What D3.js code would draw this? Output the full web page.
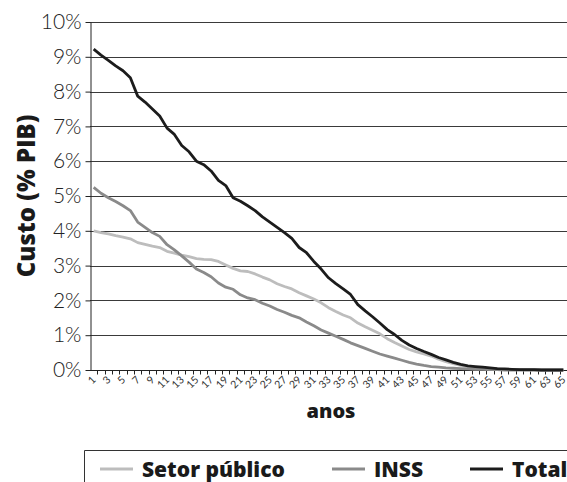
<!DOCTYPE html>
<html>
<head>
<meta charset="utf-8">
<script src="https://cdn.jsdelivr.net/npm/d3@7"></script>
<style>
  body { margin: 0; background: #fff; }
  svg { display: block; font-family: Lato, "Open Sans", sans-serif; }
</style>
</head>
<body>
<svg id="chart" width="567" height="482"></svg>
<script>
const width = 567;
const height = 482;

// anos 1..65
const anos = d3.range(1, 66);

const setorPublico = [
  4.0, 3.95, 3.91, 3.86, 3.82, 3.77, 3.66, 3.61, 3.56, 3.52,
  3.41, 3.36, 3.3, 3.26, 3.2, 3.18, 3.17, 3.12, 3.02, 2.92,
  2.85, 2.83, 2.76, 2.67, 2.59, 2.48, 2.4, 2.33, 2.22, 2.13,
  2.04, 1.93, 1.79, 1.68, 1.58, 1.5, 1.35, 1.24, 1.14, 1.04,
  0.9, 0.79, 0.69, 0.59, 0.52, 0.46, 0.4, 0.31, 0.24, 0.18,
  0.13, 0.1, 0.08, 0.06, 0.04, 0.03, 0.02, 0.01, 0.01, 0,
  0, 0, 0, 0, 0
];

const inss = [
  5.25, 5.08, 4.95, 4.84, 4.72, 4.58, 4.25, 4.1, 3.95, 3.84,
  3.6, 3.45, 3.28, 3.1, 2.9, 2.8, 2.68, 2.5, 2.38, 2.32,
  2.16, 2.07, 2.02, 1.92, 1.84, 1.74, 1.66, 1.57, 1.5, 1.38,
  1.27, 1.15, 1.06, 0.97, 0.88, 0.78, 0.7, 0.62, 0.54, 0.46,
  0.4, 0.34, 0.28, 0.22, 0.17, 0.13, 0.1, 0.08, 0.06, 0.05,
  0.04, 0.03, 0.02, 0.02, 0.01, 0.01, 0, 0, 0, 0,
  0, 0, 0, 0, 0
];

const total = [
  9.22, 9.05, 8.9, 8.74, 8.6, 8.4, 7.87, 7.7, 7.5, 7.3,
  6.95, 6.77, 6.45, 6.27, 6.0, 5.9, 5.72, 5.45, 5.3, 4.95,
  4.85, 4.72, 4.58, 4.4, 4.25, 4.1, 3.95, 3.78, 3.52, 3.37,
  3.12, 2.9, 2.65, 2.48, 2.33, 2.17, 1.88, 1.7, 1.53, 1.35,
  1.16, 1.02, 0.85, 0.72, 0.62, 0.53, 0.45, 0.36, 0.29, 0.22,
  0.16, 0.12, 0.1, 0.08, 0.06, 0.04, 0.03, 0.02, 0.01, 0.01,
  0.01, 0, 0, 0, 0
];

const yTicks = [0, 1, 2, 3, 4, 5, 6, 7, 8, 9, 10];

const seriesNames = ["Setor público", "INSS", "Total"];
const seriesColors = ["#bdbdbd", "#8a8a8a", "#1c1c1c"];
const seriesData = [setorPublico, inss, total];

const margin = { top: 22, right: 0, bottom: 112, left: 90 };
const svg = d3.select("#chart");
const boldFont = "'Open Sans', sans-serif";

const x = d3.scaleBand()
  .domain(anos)
  .range([margin.left, width - margin.right]);

const y = d3.scaleLinear()
  .domain([0, 10])
  .range([height - margin.bottom, margin.top]);

// gridlines
svg.append("g")
  .selectAll("line")
  .data(yTicks.filter(d => d > 0))
  .join("line")
  .attr("x1", margin.left)
  .attr("x2", width)
  .attr("y1", d => Math.round(y(d)) + 0.5)
  .attr("y2", d => Math.round(y(d)) + 0.5)
  .attr("stroke", "#3a3a3a")
  .attr("stroke-width", 1);

// y axis
const yAxis = svg.append("g")
  .attr("transform", `translate(${margin.left + 0.5},0)`)
  .call(d3.axisLeft(y).tickValues(yTicks).tickFormat(d => d + "%").tickSize(5).tickSizeOuter(0));
yAxis.select(".domain").attr("stroke", "#222");
yAxis.selectAll(".tick line").attr("stroke", "#222");
yAxis.selectAll(".tick text")
  .attr("x", -9)
  .attr("font-size", 21)
  .attr("font-weight", 300)
  .attr("fill", "#222")
  .style("font-family", "Lato, sans-serif");

// x axis: ticks on category boundaries
const xAxisG = svg.append("g")
  .attr("transform", `translate(0,${y(0) + 0.5})`);
xAxisG.append("line")
  .attr("x1", margin.left)
  .attr("x2", width)
  .attr("stroke", "#222");
xAxisG.selectAll(".bt")
  .data(anos)
  .join("line")
  .attr("class", "bt")
  .attr("x1", d => Math.round(x(d) + x.bandwidth()) + 0.5)
  .attr("x2", d => Math.round(x(d) + x.bandwidth()) + 0.5)
  .attr("y1", 0)
  .attr("y2", 4)
  .attr("stroke", "#222");
xAxisG.selectAll("text")
  .data(anos.filter(d => d % 2 === 1))
  .join("text")
  .attr("transform", d => `translate(${x(d) + x.bandwidth() / 2 + 3},${10}) rotate(-45)`)
  .attr("text-anchor", "end")
  .attr("font-size", 10.5)
  .attr("fill", "#333")
  .text(d => d);

// lines
const line = d3.line()
  .x((d, i) => x(anos[i]) + x.bandwidth() / 2)
  .y(d => y(d));

svg.append("g")
  .selectAll("path")
  .data(seriesData)
  .join("path")
  .attr("d", d => line(d))
  .attr("fill", "none")
  .attr("stroke", (d, i) => seriesColors[i])
  .attr("stroke-width", 2.8)
  .attr("stroke-linejoin", "round");

// axis titles
svg.append("text")
  .attr("transform", `translate(35,${(margin.top + y(0)) / 2}) rotate(-90)`)
  .attr("text-anchor", "middle")
  .attr("font-size", 24)
  .attr("font-weight", 800)
  .attr("fill", "#1a1a1a")
  .style("font-family", boldFont)
  .text("Custo (% PIB)");

svg.append("text")
  .attr("x", 331)
  .attr("y", 418)
  .attr("text-anchor", "middle")
  .attr("font-size", 20)
  .attr("font-weight", 800)
  .attr("fill", "#1a1a1a")
  .style("font-family", boldFont)
  .text("anos");

// legend box
svg.append("path")
  .attr("d", `M84.5,${height}V450.5H${width}`)
  .attr("fill", "none")
  .attr("stroke", "#333");

const legendX = [100, 332, 470];
const legend = svg.append("g")
  .selectAll("g")
  .data(seriesNames)
  .join("g")
  .attr("transform", (d, i) => `translate(${legendX[i]},469)`);
legend.append("line")
  .attr("x1", 0)
  .attr("x2", 33)
  .attr("stroke", (d, i) => seriesColors[i])
  .attr("stroke-width", 2.8);
legend.append("text")
  .attr("x", 42)
  .attr("y", 8)
  .attr("font-size", 21)
  .attr("font-weight", 800)
  .attr("fill", "#1a1a1a")
  .style("font-family", boldFont)
  .text(d => d);
</script>
</body>
</html>
